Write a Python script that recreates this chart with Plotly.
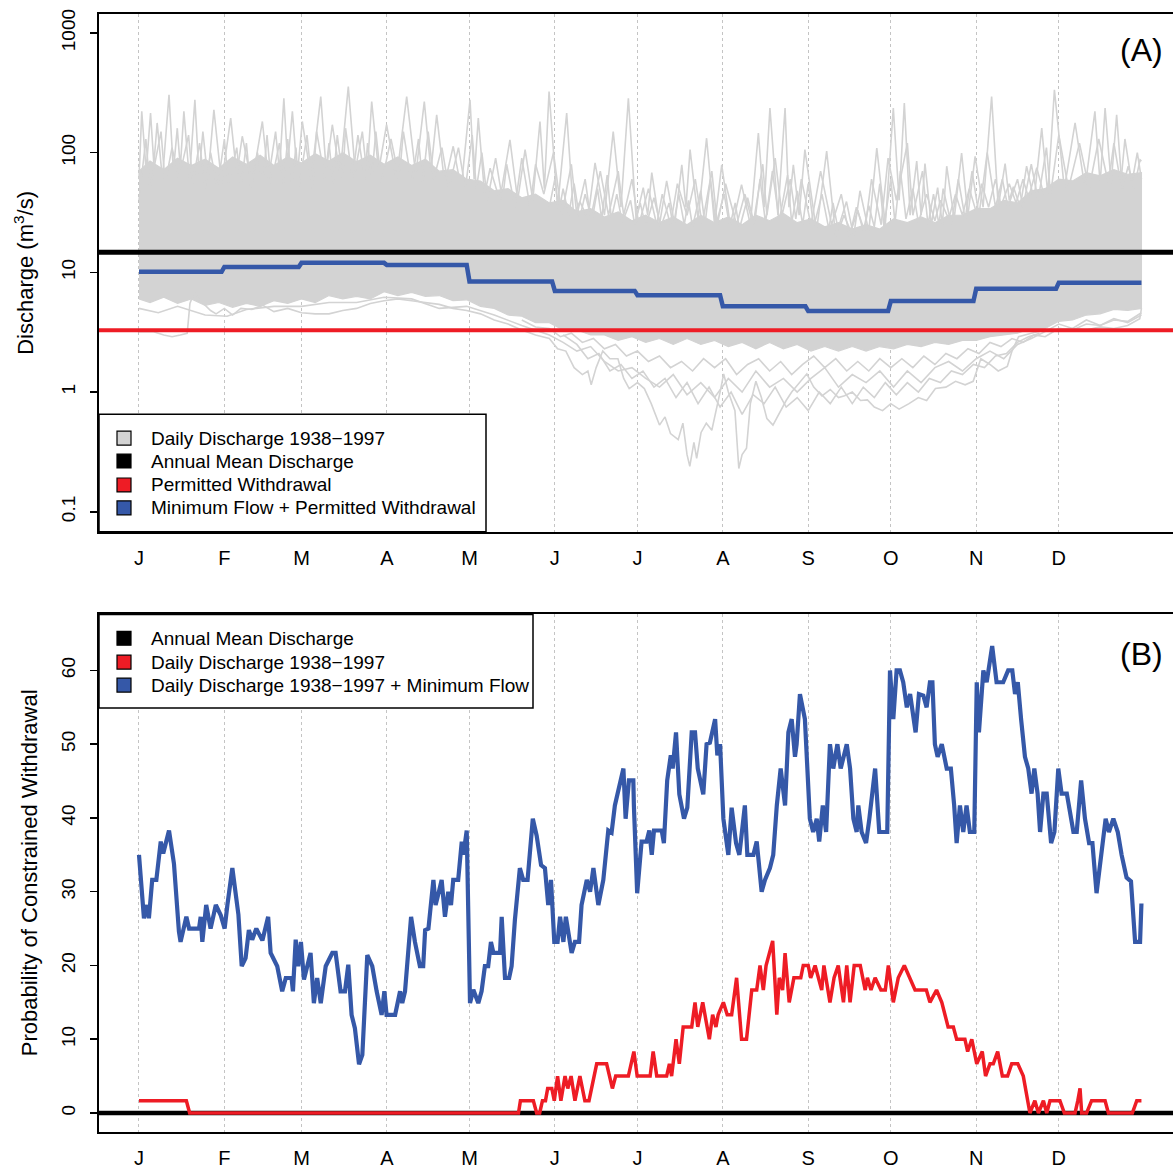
import numpy as np
import plotly.graph_objects as go

W = H = 1173
FONT = "Liberation Sans, Arial, sans-serif"
GREY = "#D3D3D3"
BLUE = "#3558A8"
RED = "#EE1C25"

# ---------------- data ----------------
month_start_days = [1, 32, 60, 91, 121, 152, 182, 213, 244, 274, 305, 335]
month_labels = ["J", "F", "M", "A", "M", "J", "J", "A", "S", "O", "N", "D"]
days_in_month = [31, 28, 31, 30, 31, 30, 31, 31, 30, 31, 30, 31]

annual_mean_q = 14.7
permitted_withdrawal_q = 3.28
minflow_plus_withdrawal = [10.1, 11.1, 12.0, 11.5, 8.4, 7.0, 6.45, 5.2, 4.75, 5.75, 7.3, 8.2]

# Daily discharge 1938-1997 (grey ensemble, read as envelopes / representative traces)
dense_days = [1, 5, 10, 15, 20, 25, 30, 35, 40, 45, 50, 55, 60, 65, 70, 75, 80, 85, 90, 95, 100,
              105, 110, 115, 120, 125, 130, 135, 140, 145, 150, 155, 160, 165, 170, 175, 180, 185,
              190, 195, 200, 205, 210, 215, 220, 225, 230, 235, 240, 245, 250, 255, 260, 265, 270,
              275, 280, 285, 290, 295, 300, 305, 310, 315, 320, 325, 330, 335, 340, 345, 350, 355,
              360, 365]
dense_upper_q = [70, 85, 72, 90, 78, 88, 74, 92, 80, 95, 78, 92, 82, 98, 85, 100, 84, 95, 80, 92, 78,
                 88, 70, 72, 60, 58, 48, 50, 42, 45, 38, 40, 32, 34, 29, 32, 27, 30,
                 26, 29, 25, 30, 26, 29, 25, 30, 27, 31, 26, 28, 24, 26, 23, 25, 23,
                 28, 26, 29, 26, 30, 30, 34, 34, 40, 38, 48, 50, 60, 58, 68, 64, 72,
                 66, 68]
dense_lower_q = [6.0, 5.6, 6.2, 5.5, 6.0, 5.3, 5.6, 5.1, 5.5, 5.2, 5.8, 5.5, 6.0, 5.6, 6.4, 6.0, 6.3,
                 6.0, 6.9, 6.4, 6.8, 6.3, 6.4, 5.8, 5.9, 5.2, 5.0, 4.4, 4.3, 3.8, 3.8, 3.3, 3.3, 3.0,
                 3.0, 2.7, 2.9, 2.6, 2.8, 2.5, 2.8, 2.5, 2.7, 2.4, 2.6, 2.3, 2.6, 2.3, 2.5, 2.2, 2.4,
                 2.2, 2.4, 2.2, 2.4, 2.3, 2.5, 2.4, 2.6, 2.5, 2.7, 2.7, 2.9, 3.0, 3.1, 3.4, 3.4, 3.9,
                 4.0, 4.4, 4.5, 4.9, 4.8, 5.0]

high_peaks = [(1, 60), (2.0, 221), (3.6, 70), (5.2, 214), (6.4, 80), (7.6, 177), (9.5, 60), (11.9, 304),
              (13.5, 70), (14.9, 160), (16, 75), (17.3, 221), (19.3, 60), (21.3, 276), (22.8, 65),
              (24.2, 150), (26, 60), (28.2, 228), (31, 55), (34.3, 194), (36.5, 65), (38.5, 137),
              (42, 55), (45.8, 182), (48, 60), (50.6, 150), (52, 70), (53.6, 285), (55, 80),
              (56.7, 221), (58.5, 65), (60.3, 182), (63.5, 60), (67.0, 294), (69, 70), (71.2, 171),
              (74, 65), (77.0, 356), (79.5, 70), (82.1, 150), (83.8, 65), (85.5, 267), (88, 70),
              (90.9, 171), (94.5, 60), (98.2, 294), (101.5, 65), (104.6, 267), (107, 70), (109.1, 207),
              (112, 55), (115.1, 113), (118, 50), (121.2, 276), (122.7, 60), (124.2, 194), (126.5, 45),
              (128.5, 74), (132, 40), (135.7, 128), (138.5, 40), (141.2, 106), (144, 40), (146.6, 182),
              (148.2, 50), (149.9, 324), (153, 35), (156.3, 214), (158.8, 30), (161.1, 39), (164, 28),
              (166.6, 82), (170, 30), (173.2, 150), (176, 35), (178.7, 285), (181.5, 28), (184.1, 51),
              (185.7, 30), (187.2, 68), (190, 25), (192.6, 58), (195.5, 25), (198.1, 79), (199.6, 35),
              (201.1, 106), (204, 28), (207.1, 132), (210, 25), (212.6, 79), (216, 22), (219.8, 54),
              (223, 25), (225.9, 146), (228, 35), (230.1, 236), (233, 30), (235.6, 236), (237, 35),
              (238.6, 79), (240.7, 30), (242.8, 106), (247, 22), (250.7, 103), (254, 20), (257.9, 39),
              (260.5, 20), (262.8, 48), (266, 22), (268.9, 109), (272, 25), (274.9, 236), (277, 40),
              (278.9, 259), (281, 30), (283.4, 85), (285, 30), (286.4, 81), (288.7, 25), (291.0, 51),
              (292.7, 25), (294.3, 77), (297, 28), (299.7, 99), (302, 30), (304.6, 93), (307.5, 35),
              (310.6, 294), (313, 35), (315.5, 81), (317, 40), (318.5, 52), (321, 35), (323.3, 77),
              (326, 40), (328.8, 160), (331, 45), (333.4, 335), (337, 50), (340.9, 177), (344.5, 50),
              (348.1, 221), (350, 55), (351.8, 236), (354, 55), (356.0, 207), (358, 50), (360.2, 77),
              (362.3, 50), (364.5, 87), (365, 85)]

mid_peaks = [(1, 40), (3.5, 130), (5, 50), (9, 150), (10.5, 55), (13, 110), (15.5, 60), (19, 140),
             (20.5, 55), (23, 120), (25, 50), (27, 100), (29.5, 50), (32, 130), (33.5, 55), (36.5, 110),
             (38, 50), (40, 120), (41.5, 50), (44, 100), (46, 55), (47.5, 140), (49, 55), (52, 120),
             (53.5, 55), (55, 130), (56.5, 55), (58, 110), (59, 50), (62, 140), (64, 50), (65.5, 150),
             (68.5, 60), (70, 120), (71.5, 55), (73, 140), (75, 60), (76, 160), (78.5, 60), (80.5, 140),
             (83, 60), (84, 120), (85.5, 60), (87, 150), (89, 55), (92.5, 130), (95.5, 60), (97, 150),
             (100, 55), (102.5, 130), (104, 55), (106, 150), (108, 60), (111, 110), (113.5, 50),
             (117, 110), (119.5, 50), (122, 140), (123.5, 50), (125.5, 100), (127.5, 40), (130.5, 90),
             (133, 40), (134.5, 80), (137.5, 35), (140, 90), (143, 35), (145, 80), (148, 45),
             (151.5, 100), (154.5, 30), (158, 80), (160, 30), (163, 60), (165, 28), (168.5, 70),
             (171.5, 30), (175, 70), (177, 30), (180, 60), (182.5, 25), (186, 50), (189, 25), (191, 45),
             (194, 25), (196.5, 55), (200, 30), (203, 60), (205.5, 25), (209, 70), (211, 25), (214, 55),
             (218, 25), (221, 45), (224, 25), (227.5, 80), (229, 30), (232, 90), (234.5, 30),
             (237.5, 60), (239.5, 28), (241.5, 60), (245, 25), (248.5, 70), (252.5, 25), (256, 45),
             (259, 20), (261.5, 35), (264.5, 22), (267, 60), (270.5, 25), (273, 90), (276, 40),
             (280, 120), (282, 30), (285.5, 70), (287.5, 25), (289.5, 45), (291.5, 25), (293, 50),
             (296, 25), (298.5, 60), (301, 28), (303.5, 70), (306, 30), (309, 100), (312, 35),
             (314.5, 60), (316.5, 35), (320, 60), (322, 35), (325, 80), (327.5, 40), (330.5, 110),
             (332, 45), (335, 140), (338.5, 50), (342.5, 120), (346, 50), (349.5, 130), (353, 55),
             (355, 120), (357.5, 55), (359, 130), (361.5, 55), (363.5, 100), (365, 60)]

summer_peaks = [(150, 35), (152, 60), (153.5, 32), (155, 50), (157, 30), (159, 55), (161, 28),
                (163, 45), (165.5, 27), (167.5, 50), (169, 28), (171, 65), (172.5, 28), (174.5, 45),
                (176.5, 26), (179.5, 40), (181, 25), (183, 38), (185, 24), (188, 42), (190.5, 24),
                (193.5, 38), (195, 24), (197, 45), (199, 25), (200.5, 40), (202, 24), (205, 48),
                (206.5, 25), (208.5, 60), (210.5, 25), (213.5, 45), (215.5, 24), (217.5, 38),
                (219, 23), (222, 42), (224.5, 25), (226.5, 60), (228.5, 26), (231, 70), (233.5, 27),
                (236.5, 65), (238, 26), (240, 48), (242, 25), (244, 55), (246, 24), (249, 45),
                (251.5, 23), (253, 38), (255, 22), (257, 30), (259.5, 22), (262, 33), (264, 22),
                (266, 36), (268, 24), (270, 55), (271.5, 24), (274, 60), (275.5, 26), (277.5, 70),
                (279.5, 28), (282, 50), (284, 26), (287, 45), (290, 27), (292, 40), (295, 28),
                (297.5, 45), (300, 30), (302.5, 50), (305, 32), (307, 55), (309.5, 35), (312, 60),
                (314, 36), (317, 55), (319.5, 38), (322, 60), (324, 42), (327, 75), (329.5, 45)]

low_min = [(1, 3.2), (6, 3.2), (10, 3.0), (13, 2.9), (16, 3.0), (18.5, 3.1), (19.5, 5.5), (21, 6.8),
           (24, 5.6), (27, 4.8), (29, 4.5), (32, 5.0), (35, 4.4), (38, 5.0), (42, 4.9), (46, 5.3),
           (50, 4.7), (55, 5.0), (60, 4.6), (65, 4.5), (70, 4.5), (75, 4.8), (80, 5.0), (85, 5.5),
           (90, 5.8), (95, 6.0), (100, 5.8), (105, 5.6), (110, 5.4), (115, 5.0), (120, 4.8), (125, 4.5),
           (130, 4.0), (135, 3.7), (140, 3.3), (145, 3.0), (150, 2.8), (153, 2.3), (156, 2.2),
           (159, 1.6), (162, 1.4), (164, 1.5), (165.2, 1.15), (167, 1.6), (169.4, 2.2), (172, 1.9),
           (174.9, 1.9), (177, 1.3), (179, 1.07), (182, 1.2), (184.5, 1.07), (187, 0.8), (190, 0.53),
           (192, 0.62), (194, 0.45), (196.8, 0.40), (198.5, 0.55), (200, 0.30), (201, 0.24),
           (202.5, 0.38), (203.5, 0.28), (205.1, 0.46), (207, 0.55), (209, 0.48), (210.6, 0.70),
           (212, 1.0), (213.3, 1.42), (215, 1.0), (217.4, 0.70), (218.8, 0.23), (220, 0.3),
           (221.6, 0.34), (223, 0.8), (225, 1.23), (227, 0.9), (229, 0.6), (231.2, 0.53), (234, 0.7),
           (236, 0.85), (238, 1.0), (241, 1.2), (243.5, 1.42), (246, 1.1), (249, 0.93), (252, 1.05),
           (255, 0.9), (257.2, 0.93), (260, 1.0), (263, 0.85), (265.5, 0.86), (268, 0.75),
           (271, 0.70), (274, 0.8), (277, 0.72), (280.6, 0.80), (284, 0.9), (287, 0.85),
           (290.2, 1.07), (294, 1.1), (297.5, 1.23), (301, 1.15), (303.9, 1.23), (306.7, 1.9),
           (310, 1.7), (313, 1.5), (316.3, 1.64), (318, 2.2), (320.4, 2.9), (325, 3.1), (330, 3.3),
           (335, 3.3), (340, 3.4), (345, 3.3), (350, 3.5), (355, 3.4), (360, 3.6), (364.4, 4.1),
           (365, 5.0)]

low_second = [(1, 5.0), (8, 4.6), (15, 5.2), (25, 4.4), (33, 4.3), (40, 4.9), (50, 5.2), (60, 5.2),
              (70, 5.6), (80, 5.6), (90, 6.2), (100, 6.0), (110, 5.0), (120, 5.2), (130, 4.4),
              (140, 3.6), (150, 3.0), (155, 2.6), (160, 2.2), (165, 2.4), (170, 1.8), (175, 1.5),
              (180, 1.6), (185, 1.3), (190, 1.1), (195, 1.4), (200, 0.95), (205, 1.2), (210, 0.9),
              (215, 1.3), (220, 1.0), (225, 1.5), (230, 1.1), (235, 1.3), (240, 1.0), (245, 1.3),
              (250, 1.6), (255, 1.1), (260, 1.4), (265, 1.2), (270, 1.5), (275, 1.1), (280, 1.5),
              (285, 1.2), (290, 1.6), (295, 1.8), (300, 1.5), (305, 1.9), (310, 2.2), (315, 1.9),
              (320, 2.5), (325, 2.8), (330, 3.2), (335, 3.7), (340, 3.4), (345, 4.0), (350, 3.6),
              (355, 4.1), (360, 3.8), (365, 4.4)]

low_third = [(140, 4.0), (145, 3.5), (150, 3.4), (154, 2.9), (158, 3.1), (162, 2.6), (166, 2.8),
             (170, 2.3), (174, 2.5), (178, 2.0), (182, 2.2), (186, 1.8), (190, 2.0), (194, 1.6),
             (198, 1.8), (202, 1.5), (206, 1.9), (210, 1.6), (214, 1.9), (218, 1.4), (222, 1.7),
             (226, 1.9), (230, 1.5), (234, 1.8), (238, 1.4), (242, 1.7), (246, 2.0), (250, 1.6),
             (254, 1.9), (258, 1.5), (262, 1.8), (266, 1.5), (270, 1.9), (274, 1.6), (278, 1.9),
             (282, 1.6), (286, 2.0), (290, 1.7), (294, 2.1), (298, 1.9), (302, 2.3), (306, 2.1),
             (310, 2.6), (314, 2.4), (318, 2.8), (322, 2.6), (326, 3.0), (330, 2.9), (335, 3.4),
             (340, 3.3), (345, 3.7), (350, 3.6), (355, 4.0), (360, 3.9), (365, 4.6)]

low_fourth = [(155, 3.0), (160, 2.5), (164, 1.9), (168, 2.1), (172, 1.5), (176, 1.7), (180, 1.3),
              (184, 1.5), (188, 1.1), (192, 1.3), (196, 0.9), (200, 1.2), (204, 0.8), (208, 1.1),
              (212, 0.75), (216, 1.0), (220, 0.65), (224, 0.95), (228, 0.8), (232, 1.1), (236, 0.75),
              (240, 0.9), (244, 0.7), (248, 1.0), (252, 0.8), (256, 1.1), (260, 0.8), (264, 1.1),
              (268, 0.9), (272, 1.2), (276, 0.95), (280, 1.2), (284, 1.0), (288, 1.3), (292, 1.2),
              (296, 1.5), (300, 1.4), (304, 1.7), (308, 1.6), (312, 2.0), (316, 2.1), (320, 2.6),
              (324, 2.9), (328, 3.1)]

# Panel B: probability of constrained withdrawal (%)
mean_b_pct = 0.0
red_b = [(1, 1.67), (18.2, 1.67), (19.4, 0), (138.8, 0), (139.5, 1.67), (144.2, 1.67), (145.4, 0),
         (146.5, 0), (147.5, 1.67), (148.6, 1.67), (149.4, 3.33), (150.9, 3.33), (151.8, 1.67),
         (153.0, 5), (154.2, 1.67), (155.7, 5), (156.7, 3.33), (157.9, 5), (159.3, 1.67), (161.1, 5),
         (162.9, 1.67), (164.4, 1.67), (167.2, 6.67), (170.8, 6.67), (172.9, 3.33), (174.1, 5),
         (178.7, 5), (180.7, 8.33), (181.9, 5), (186.6, 5), (187.7, 8.33), (189.0, 5), (192.6, 5),
         (193.6, 6.67), (194.4, 5), (196.0, 10), (197.2, 6.67), (198.6, 11.67), (201.7, 11.67),
         (202.9, 15), (203.9, 11.67), (205.7, 15), (208.1, 10), (209.3, 13.33), (210.5, 11.67),
         (211.3, 13.33), (213.2, 15), (214.6, 13.33), (216.2, 13.33), (218.0, 18.33), (219.8, 10),
         (221.6, 10), (223.5, 16.67), (225.3, 16.67), (226.5, 20), (227.7, 16.67), (228.7, 20),
         (231.1, 23.33), (232.6, 13.33), (233.5, 18.33), (234.7, 16.67), (235.6, 21.67), (237.1, 15),
         (238.8, 18.33), (241.3, 18.33), (242.2, 20), (244.0, 20), (244.9, 18.33), (246.5, 20),
         (247.7, 18.33), (248.9, 16.67), (249.7, 20), (251.9, 15), (253.4, 18.33), (254.9, 20),
         (256.8, 15), (258.0, 20), (259.2, 15), (260.7, 20), (262.9, 20), (264.7, 16.67),
         (265.5, 18.33), (266.8, 16.67), (268.3, 18.33), (270.4, 16.67), (272.0, 16.67), (273.1, 20),
         (274.9, 15), (276.7, 18.33), (278.9, 20), (280.8, 18.33), (282.8, 16.67), (286.9, 16.67),
         (288.2, 15), (290.6, 16.67), (292.5, 15), (294.8, 11.67), (296.7, 11.67), (297.9, 10),
         (300.9, 10), (301.9, 8.33), (303.4, 10), (305.2, 6.67), (307.2, 8.33), (308.4, 5),
         (310.0, 6.67), (311.2, 6.67), (312.8, 8.33), (314.5, 5), (316.4, 5), (317.9, 6.67),
         (320.1, 6.67), (322.1, 5), (324.5, 0), (326.3, 1.67), (327.6, 0), (329.4, 1.67), (330.6, 0),
         (331.8, 1.67), (335.4, 1.67), (337.0, 0), (340.9, 0), (341.9, 1.67), (342.7, 3.33),
         (343.3, 0), (345.1, 0), (346.9, 1.67), (351.8, 1.67), (353.0, 0), (361.7, 0), (363.3, 1.67),
         (365.0, 1.67)]

blue_b = [(1, 35.0), (2.8, 26.4), (4.0, 28.2), (4.6, 26.4), (5.8, 31.6), (7.3, 31.6), (8.9, 36.8),
          (9.8, 35.2), (11.9, 38.3), (13.7, 33.8), (15.5, 24.6), (16.1, 23.2), (18.2, 26.6),
          (19.2, 25.0), (22.8, 25.0), (23.4, 26.6), (24.0, 23.2), (25.4, 28.2), (27.0, 25.0),
          (28.9, 28.2), (30.7, 26.8), (32.1, 25.0), (33.1, 28.2), (34.9, 33.2), (37.1, 26.9),
          (38.3, 19.9), (39.7, 21.0), (40.9, 24.8), (42.1, 23.5), (43.6, 25.0), (45.8, 23.4),
          (47.9, 26.6), (48.8, 21.7), (51.2, 19.9), (53.0, 16.5), (54.3, 18.3), (56.4, 18.3),
          (56.9, 16.5), (57.9, 23.5), (58.8, 19.9), (59.8, 23.2), (60.9, 18.1), (63.3, 21.7),
          (64.5, 14.9), (65.7, 18.3), (67.0, 14.9), (68.8, 19.9), (71.2, 21.7), (72.4, 21.7),
          (74.2, 16.5), (75.8, 16.5), (77.0, 20.1), (78.2, 13.3), (79.4, 11.5), (80.9, 6.6),
          (82.1, 7.9), (83.9, 21.4), (85.7, 19.9), (87.3, 16.5), (89.1, 13.3), (90.1, 16.5),
          (90.9, 13.3), (94.0, 13.3), (95.8, 16.5), (96.6, 14.9), (97.6, 16.5), (99.8, 26.6),
          (101.2, 23.2), (103.0, 19.9), (104.2, 19.9), (104.9, 24.8), (106.1, 25.0), (107.9, 31.6),
          (108.7, 28.2), (109.9, 30.0), (110.9, 31.6), (112.1, 26.6), (113.3, 30.0), (114.3, 28.2),
          (115.1, 31.6), (116.9, 31.6), (118.2, 36.8), (118.8, 35.0), (120.0, 38.3), (121.2, 14.9),
          (122.4, 16.7), (124.2, 14.9), (125.4, 16.5), (126.6, 19.9), (127.8, 19.9), (128.8, 23.2),
          (129.7, 21.7), (132.1, 21.7), (132.7, 26.6), (133.9, 18.3), (135.4, 18.3), (136.3, 19.9),
          (137.5, 26.2), (139.3, 33.2), (140.5, 31.6), (142.1, 31.6), (144.0, 39.9), (145.4, 37.6),
          (147.0, 33.6), (148.4, 33.2), (149.6, 28.2), (150.6, 31.6), (151.8, 23.2), (153.0, 23.2),
          (153.9, 26.6), (155.1, 23.2), (156.0, 26.6), (158.1, 21.7), (159.3, 23.2), (160.8, 23.2),
          (161.7, 28.2), (163.6, 31.6), (164.8, 30.0), (166.0, 33.2), (167.8, 28.2), (169.6, 31.6),
          (171.4, 38.3), (172.6, 38.0), (173.8, 41.7), (176.9, 46.7), (177.7, 39.9), (178.9, 45.1),
          (180.5, 45.1), (180.7, 41.7), (181.9, 29.8), (183.5, 36.8), (185.3, 36.8), (186.3, 38.3),
          (187.2, 35.0), (188.0, 38.3), (190.8, 38.3), (191.6, 36.6), (192.8, 45.1), (194.1, 48.5),
          (194.8, 46.7), (196.0, 51.6), (197.2, 43.2), (198.9, 39.9), (200.1, 41.4), (201.7, 51.6),
          (202.9, 51.6), (203.9, 46.7), (205.9, 43.2), (207.1, 50.0), (208.3, 50.2), (210.2, 53.4),
          (211.0, 48.5), (212.0, 50.0), (213.2, 39.9), (215.0, 35.0), (216.2, 41.4), (217.8, 36.6),
          (219.0, 35.0), (221.0, 41.7), (221.9, 35.0), (224.1, 35.0), (225.3, 36.8), (227.1, 30.0),
          (228.3, 31.6), (230.1, 33.2), (231.3, 35.0), (232.6, 41.7), (234.0, 46.7), (235.6, 41.7),
          (236.8, 51.6), (238.0, 53.4), (239.2, 48.3), (239.8, 50.0), (241.0, 56.8), (242.8, 53.4),
          (244.6, 39.9), (245.8, 38.1), (247.1, 39.9), (248.0, 36.8), (249.3, 41.7), (250.5, 38.1),
          (251.9, 50.0), (253.1, 46.7), (254.6, 50.0), (255.8, 46.7), (258.0, 50.0), (259.2, 46.7),
          (260.4, 39.9), (261.6, 38.1), (262.2, 41.7), (263.4, 38.1), (265.0, 36.6), (266.2, 39.9),
          (267.4, 43.4), (268.3, 46.7), (269.8, 38.1), (272.7, 38.1), (273.7, 60.0), (274.9, 53.4),
          (276.1, 60.0), (277.3, 60.0), (278.5, 58.4), (279.8, 55.0), (281.0, 56.8), (281.6, 55.0),
          (283.0, 51.6), (284.2, 56.8), (285.8, 56.6), (287.0, 55.0), (288.2, 58.4), (289.1, 58.4),
          (290.0, 50.0), (291.0, 48.3), (292.5, 50.0), (294.3, 46.7), (295.8, 46.7), (297.0, 41.7),
          (297.9, 36.6), (299.1, 41.7), (300.3, 38.1), (301.5, 41.7), (302.7, 38.1), (304.3, 38.1),
          (305.2, 58.4), (306.0, 51.6), (307.6, 60.0), (308.8, 58.4), (310.8, 63.3), (312.4, 58.4),
          (314.8, 58.4), (316.6, 60.0), (318.1, 60.0), (319.1, 56.8), (320.1, 58.4), (321.3, 53.4),
          (322.7, 48.3), (323.9, 46.7), (325.1, 43.3), (326.1, 46.7), (327.3, 43.3), (328.2, 38.1),
          (329.4, 43.3), (330.6, 43.3), (332.2, 36.6), (333.4, 38.1), (334.8, 46.7), (336.0, 43.3),
          (337.9, 43.3), (340.3, 38.1), (341.5, 38.1), (343.1, 45.1), (344.5, 39.9), (346.0, 36.6),
          (347.2, 36.6), (348.7, 29.8), (349.9, 33.2), (352.0, 39.9), (353.2, 38.1), (354.8, 39.9),
          (356.4, 38.1), (357.8, 35.0), (359.6, 31.9), (361.2, 31.4), (362.7, 23.2), (364.5, 23.2),
          (365.0, 28.4)]

# ---------------- figure ----------------
X_RANGE = [-13.52, 376.46]
YA_RANGE_LOG = [-1.1667, 3.1583]
YB_RANGE = [-2.6, 67.6]


def px(x):
    return x / W


def py(y):
    return 1 - y / H


def split(pairs):
    return [p[0] for p in pairs], [p[1] for p in pairs]


fig = go.Figure()

# ---- Panel A ----
fig.add_trace(go.Scatter(
    x=dense_days + dense_days[::-1], y=dense_upper_q + dense_lower_q[::-1],
    fill="toself", fillcolor=GREY, mode="lines", line=dict(width=1.2, color=GREY),
    xaxis="x", yaxis="y", hoverinfo="skip"))
for pairs in (summer_peaks, mid_peaks, high_peaks, low_fourth, low_third, low_second, low_min):
    d, q = split(pairs)
    fig.add_trace(go.Scatter(x=d, y=q, mode="lines", line=dict(color=GREY, width=1.6),
                             xaxis="x", yaxis="y", hoverinfo="skip"))

fig.add_trace(go.Scatter(x=X_RANGE, y=[annual_mean_q] * 2, mode="lines",
                         line=dict(color="black", width=5), xaxis="x", yaxis="y"))
fig.add_trace(go.Scatter(x=X_RANGE, y=[permitted_withdrawal_q] * 2, mode="lines",
                         line=dict(color=RED, width=4), xaxis="x", yaxis="y"))
daily_days = np.arange(1, 366)
daily_blue = np.repeat(minflow_plus_withdrawal, days_in_month)
fig.add_trace(go.Scatter(x=daily_days, y=daily_blue, mode="lines",
                         line=dict(color=BLUE, width=4.5), xaxis="x", yaxis="y"))

# ---- Panel B ----
fig.add_trace(go.Scatter(x=X_RANGE, y=[mean_b_pct] * 2, mode="lines",
                         line=dict(color="black", width=4.5), xaxis="x2", yaxis="y2"))
d, v = split(red_b)
fig.add_trace(go.Scatter(x=d, y=v, mode="lines", line=dict(color=RED, width=3.5),
                         xaxis="x2", yaxis="y2"))
d, v = split(blue_b)
fig.add_trace(go.Scatter(x=d, y=v, mode="lines", line=dict(color=BLUE, width=4.2),
                         xaxis="x2", yaxis="y2"))

xaxis_common = dict(
    range=X_RANGE, tickmode="array", tickvals=month_start_days, ticktext=month_labels,
    showgrid=True, gridcolor="#C4C4C4", griddash="dot", gridwidth=1,
    showline=True, mirror=True, linecolor="black", linewidth=2,
    ticks="", zeroline=False, tickfont=dict(family=FONT, size=20, color="black"),
    ticklabelstandoff=7, domain=[px(99), 1.0], fixedrange=True)

yaxis_common = dict(
    showline=True, mirror=False, linecolor="black", linewidth=2,
    ticks="outside", ticklen=7, tickwidth=1.5, tickcolor="black", showgrid=False,
    zeroline=False, tickangle=-90, tickfont=dict(family=FONT, size=19, color="black"),
    ticklabelstandoff=7, fixedrange=True)

fig.update_layout(
    width=W, height=H, margin=dict(l=0, r=0, t=0, b=0),
    paper_bgcolor="white", plot_bgcolor="white", showlegend=False,
    xaxis=dict(anchor="y", **xaxis_common),
    yaxis=dict(anchor="x", type="log", range=YA_RANGE_LOG, domain=[py(529), py(9)],
               tickmode="array", tickvals=[0.1, 1, 10, 100, 1000],
               ticktext=["0.1", "1", "10", "100", "1000"], **yaxis_common),
    xaxis2=dict(anchor="y2", **xaxis_common),
    yaxis2=dict(anchor="x2", range=YB_RANGE, domain=[py(1132), py(612)],
                tickmode="array", tickvals=[0, 10, 20, 30, 40, 50, 60], **yaxis_common),
)

# ---- axis titles & panel labels ----
ann = [
    dict(text="Discharge (m<sup>3</sup>/s)", x=px(24), y=py(269), textangle=-90,
         font=dict(family=FONT, size=22, color="black")),
    dict(text="Probability of Constrained Withdrawal", x=px(29), y=py(872), textangle=-90,
         font=dict(family=FONT, size=22, color="black")),
    dict(text="(A)", x=px(1141), y=py(45), font=dict(family=FONT, size=32, color="black")),
    dict(text="(B)", x=px(1141), y=py(652), font=dict(family=FONT, size=32, color="black")),
]
for a in ann:
    fig.add_annotation(xref="paper", yref="paper", showarrow=False, xanchor="center",
                       yanchor="middle", **a)

# ---- legends ----
legend_a = [("Daily Discharge 1938\u22121997", GREY),
            ("Annual Mean Discharge", "black"),
            ("Permitted Withdrawal", RED),
            ("Minimum Flow + Permitted Withdrawal", BLUE)]
legend_b = [("Annual Mean Discharge", "black"),
            ("Daily Discharge 1938\u22121997", RED),
            ("Daily Discharge 1938\u22121997 + Minimum Flow", BLUE)]


def draw_legend(box, rows_y, items):
    x0, y0, x1, y1 = box
    fig.add_shape(type="rect", xref="paper", yref="paper", x0=px(x0), x1=px(x1),
                  y0=py(y1), y1=py(y0), fillcolor="white", line=dict(color="black", width=1.5))
    for (label, color), ry in zip(items, rows_y):
        fig.add_shape(type="rect", xref="paper", yref="paper", x0=px(117), x1=px(131),
                      y0=py(ry + 7), y1=py(ry - 7), fillcolor=color,
                      line=dict(color="black", width=1.2))
        fig.add_annotation(xref="paper", yref="paper", x=px(149), y=py(ry), text=label,
                           showarrow=False, xanchor="left", yanchor="middle",
                           font=dict(family=FONT, size=19, color="black"))


draw_legend((99, 411, 486, 529), [435, 458, 482, 505], legend_a)
draw_legend((99, 612, 533, 706), [636, 660, 683], legend_b)

fig.write_html("out.html", config={"displayModeBar": False, "staticPlot": True},
               post_script="document.body.style.margin='0px';")
